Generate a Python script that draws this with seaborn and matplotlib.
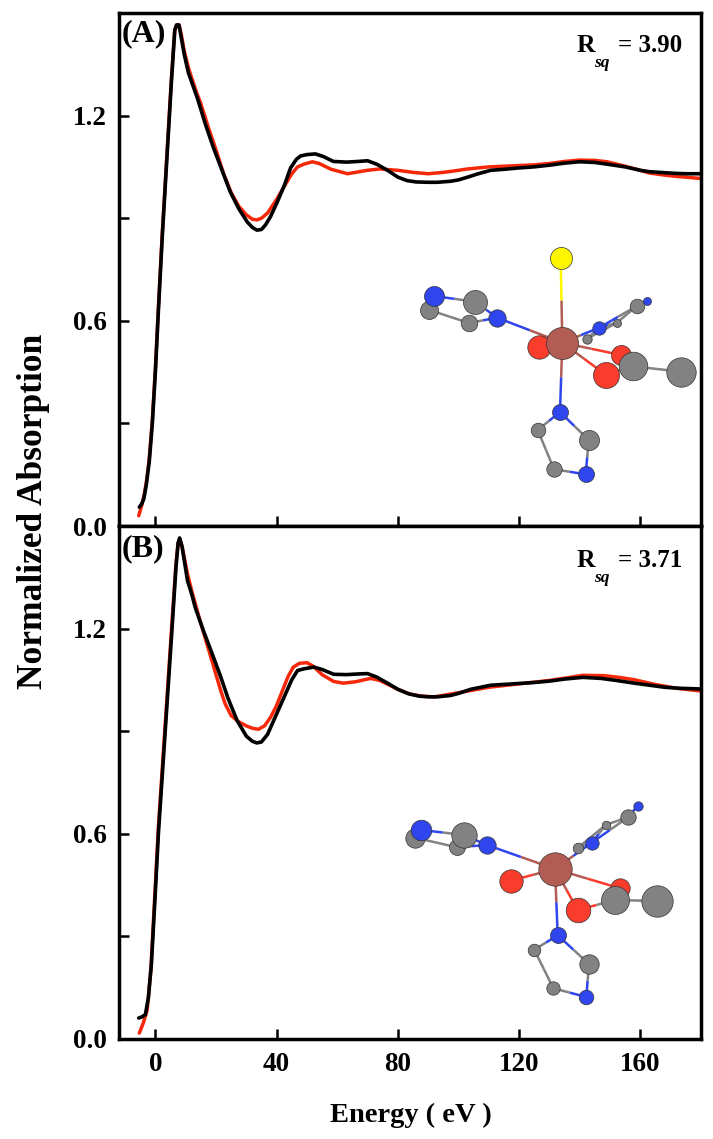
#!/usr/bin/env python3
import numpy as np
import matplotlib
matplotlib.use('Agg')
import matplotlib.pyplot as plt
import seaborn as sns

sns.set_theme(style='white')
plt.rcParams['font.family'] = ['Liberation Serif', 'DejaVu Serif']
plt.rcParams['font.weight'] = 'bold'
plt.rcParams['text.color'] = 'black'
plt.rcParams['xtick.color'] = 'black'
plt.rcParams['ytick.color'] = 'black'

# Spectra
a_black_x = [-5.3, -4.5, -3.8, -3, -2, -1, 0, 1, 2.3, 3.3, 4.3, 5.3, 6.4, 7, 7.8, 8.5, 9.5, 10.9, 12.3, 13.9,
             16.5, 19.2, 22, 24.7, 27.5, 30.3, 32, 33.5, 35, 36.3, 38, 40.2, 42.5, 44.6, 46.5, 47.9, 50, 52.8,
             55.5, 58.7, 63, 67, 70, 73, 76.6, 80, 83, 86, 89.8, 93, 97.4, 100, 103, 106.5, 110.6, 115, 120, 124.8,
             130, 135, 140, 145, 149, 155, 160, 163, 168, 172, 175, 180]
a_black_y = [0.055, 0.065, 0.08, 0.12, 0.19, 0.3, 0.45, 0.63, 0.85, 1.0, 1.15, 1.3, 1.45, 1.465, 1.465, 1.43, 1.38, 1.325, 1.29, 1.25,
             1.175, 1.105, 1.04, 0.977, 0.928, 0.889, 0.873, 0.865, 0.867, 0.88, 0.905, 0.947, 0.995, 1.047, 1.072, 1.082, 1.086, 1.088,
             1.08, 1.066, 1.064, 1.066, 1.068, 1.058, 1.04, 1.02, 1.01, 1.006, 1.005, 1.005, 1.008, 1.012, 1.02, 1.03, 1.04, 1.043, 1.047, 1.05,
             1.055, 1.061, 1.065, 1.063, 1.058, 1.05, 1.04, 1.036, 1.033, 1.031, 1.03, 1.03]
a_red_x = [-5.5, -4.5, -3.5, -2.7, -2, -1, 0, 1, 2.3, 3.3, 4.3, 5.3, 6.4, 7, 7.8, 8.5, 9.5, 10.9, 12, 13.5, 15,
           17.5, 20, 22.5, 25, 27.5, 30, 32, 33.5, 35, 37, 40, 43, 45, 46.9, 49, 51.8, 54, 58, 63.4, 66, 70, 74, 80, 85, 90,
           95, 100, 103, 110, 115, 120, 125, 130, 135, 140, 145, 149, 155, 160, 163, 168, 172, 175, 180]
a_red_y = [0.03, 0.06, 0.1, 0.145, 0.2, 0.31, 0.46, 0.64, 0.86, 1.01, 1.16, 1.31, 1.45, 1.465, 1.465, 1.44, 1.39, 1.34, 1.31, 1.27, 1.235,
           1.165, 1.1, 1.03, 0.975, 0.935, 0.91, 0.897, 0.895, 0.9, 0.915, 0.955, 1.0, 1.03, 1.05, 1.058, 1.065, 1.06, 1.043, 1.03, 1.034, 1.04, 1.044, 1.04, 1.034, 1.03,
           1.034, 1.04, 1.044, 1.05, 1.052, 1.054, 1.056, 1.06, 1.066, 1.07, 1.069, 1.065, 1.052, 1.04, 1.032, 1.026, 1.022, 1.02, 1.016]

b_black_x = [-5.5, -4.5, -3.3, -2.3, -1.3, 0, 1, 2.5, 4, 5.5, 6.8, 7.5, 8, 8.8, 9.7, 10.6, 12, 13.2, 16, 19.2, 21.5, 24,
             27, 30, 32, 33.5, 35, 37, 40, 42.5, 45, 46.9, 49, 52.3, 55, 58.8, 63, 67, 70, 73, 76.6, 80, 83.5, 87, 90, 93,
             97.4, 100, 104, 110.6, 118, 125, 130, 135, 141, 147, 152, 158, 163, 168, 173, 180]
b_black_y = [0.06, 0.063, 0.07, 0.12, 0.22, 0.43, 0.6, 0.8, 1.0, 1.2, 1.38, 1.45, 1.465, 1.44, 1.39, 1.34, 1.3, 1.26, 1.19, 1.115, 1.06, 0.995,
             0.93, 0.885, 0.87, 0.865, 0.868, 0.89, 0.95, 1.0, 1.05, 1.077, 1.082, 1.087, 1.08, 1.066, 1.065, 1.067, 1.068, 1.058, 1.04, 1.022, 1.009, 1.002, 1.0, 1.0,
             1.004, 1.01, 1.022, 1.034, 1.038, 1.042, 1.046, 1.052, 1.057, 1.054, 1.048, 1.04, 1.034, 1.028, 1.025, 1.023]
b_red_x = [-5.3, -4, -2.7, -1.5, 0, 1, 2.5, 4, 5.5, 6.8, 7.5, 8, 8.8, 9.7, 10.6, 12, 14.5, 17, 19.5, 21.5, 23, 25,
           27.5, 30, 32, 34, 36, 38, 40, 42, 43.8, 45.5, 47.5, 50, 52, 55, 58.8, 62, 66, 71, 74, 80, 84, 88, 92, 100,
           110, 120, 130, 136, 141, 148, 153, 158, 165, 172, 180]
b_red_y = [0.016, 0.045, 0.083, 0.2, 0.45, 0.62, 0.82, 1.02, 1.22, 1.39, 1.45, 1.46, 1.44, 1.4, 1.36, 1.31, 1.23, 1.155, 1.08, 1.02, 0.98, 0.945,
           0.927, 0.915, 0.908, 0.905, 0.915, 0.94, 0.975, 1.02, 1.06, 1.087, 1.098, 1.10, 1.09, 1.065, 1.045, 1.04, 1.044, 1.054, 1.048, 1.022, 1.008, 1.002, 1.0, 1.012,
           1.028, 1.038, 1.048, 1.056, 1.063, 1.062, 1.057, 1.05, 1.036, 1.025, 1.017]

x_ticks = [0, 40, 80, 120, 160]
y_ticks = [0.0, 0.3, 0.6, 0.9, 1.2]
y_tick_labels = ['0.0', '', '0.6', '', '1.2']

# Molecule insets, read in image pixels: x, y, radius, colour key
BROWN, RED, GREY, BLUE, YELLOW = '#b25c54', '#f93c2c', '#828282', '#2f46ee', '#fdf600'

a_atoms_x = [586.7, 617, 636.7, 646.7, 599.3, 429.3, 433.7, 469, 475.3, 497, 538.7, 562.3, 621, 605.7, 633, 681.3, 560.7, 560, 537.7, 588.7, 554, 585.7]
a_atoms_y = [339, 322.7, 306, 301.3, 327.7, 310, 296, 323, 301.7, 317.7, 347.3, 342.7, 355, 374.7, 366.3, 371.7, 258.3, 412, 430, 440, 469.3, 474.3]
a_atoms_r = [4.7, 4, 7.3, 4, 6.7, 9, 10, 8.3, 12, 8.7, 11.7, 16, 10, 13, 14.3, 14.7, 11, 8, 7.3, 10, 7.7, 8]
a_atoms_c = [GREY, GREY, GREY, BLUE, BLUE, GREY, BLUE, GREY, GREY, BLUE, RED, BROWN, RED, RED, GREY, GREY, YELLOW, BLUE, GREY, GREY, GREY, BLUE]
a_bonds = [(11, 16), (11, 10), (11, 12), (11, 13), (11, 9), (11, 4), (11, 17), (14, 15), (12, 14), (13, 14),
           (9, 8), (9, 7), (8, 6), (6, 5), (5, 7), (4, 0), (4, 1), (4, 2), (0, 1), (1, 2), (2, 3),
           (17, 18), (17, 19), (18, 20), (20, 21), (21, 19)]

b_atoms_x = [510.7, 577.7, 606, 628, 637.7, 591.7, 415, 421.3, 457, 464, 487, 555, 620, 577.7, 615.3, 656.7, 557.7, 534.3, 589, 553.3, 586.3]
b_atoms_y = [880.7, 848, 824.7, 817.3, 805.7, 842.7, 837.7, 830, 847.3, 835, 845, 869, 888.3, 910, 900, 901, 935.3, 949.7, 964, 988.3, 997]
b_atoms_r = [11.7, 5.3, 4.3, 7.7, 4.7, 6.7, 9.7, 10.3, 8, 12.7, 8.7, 16.7, 9.7, 12.3, 14, 15.7, 8, 6.3, 9.7, 6.7, 7.3]
b_atoms_c = [RED, GREY, GREY, GREY, BLUE, BLUE, GREY, BLUE, GREY, GREY, BLUE, BROWN, RED, RED, GREY, GREY, BLUE, GREY, GREY, GREY, BLUE]
b_bonds = [(11, 0), (11, 12), (11, 13), (11, 10), (11, 5), (11, 16), (14, 15), (12, 14), (13, 14),
           (10, 9), (10, 8), (9, 7), (7, 6), (6, 8), (5, 1), (5, 2), (5, 3), (1, 2), (2, 3), (3, 4),
           (16, 17), (16, 18), (17, 19), (19, 20), (20, 18)]


def style_panel(ax, show_x):
    ax.set_xlim(-12, 180)
    ax.set_ylim(0, 1.5)
    ax.set_xticks(x_ticks)
    ax.set_yticks(y_ticks)
    ax.set_yticklabels(y_tick_labels)
    ax.tick_params(direction='in', length=7, width=1.8, labelsize=19.5, left=True, bottom=True)
    ax.tick_params(axis='x', pad=10, labelbottom=show_x)
    ax.tick_params(axis='y', pad=9)
    ax.set_xlabel('')
    ax.set_ylabel('')
    for s in ax.spines.values():
        s.set_linewidth(2.5)
        s.set_color('black')


def draw_panel(ax, red_x, red_y, black_x, black_y, show_x):
    sns.lineplot(x=red_x, y=red_y, color='#f5280a', lw=2.5, sort=False, estimator=None, ax=ax)
    sns.lineplot(x=black_x, y=black_y, color='black', lw=2.6, sort=False, estimator=None, ax=ax)
    style_panel(ax, show_x)


def draw_molecule(ov, xs, ys, rs, cs, bonds):
    for i, j in bonds:
        mx, my = (xs[i] + xs[j]) / 2, (ys[i] + ys[j]) / 2
        ov.plot([xs[i], mx], [ys[i], my], color=cs[i], lw=1.8, solid_capstyle='butt', zorder=1)
        ov.plot([mx, xs[j]], [my, ys[j]], color=cs[j], lw=1.8, solid_capstyle='butt', zorder=1)
    sizes = (2 * np.array(rs) * 0.72) ** 2
    # one at a time so the overlap order stays as listed
    for k in range(len(xs)):
        ov.scatter(xs[k], ys[k], s=sizes[k], color=cs[k], edgecolor='#333333', linewidth=0.5, zorder=2 + k)


def rsq_label(ov, y, value):
    ov.text(577, y, 'R', fontsize=18.5, fontweight='bold', ha='left', va='baseline')
    ov.text(594, y + 15, 'sq', fontsize=12.5, fontweight='bold', style='italic', ha='left', va='baseline')
    ov.text(682, y, '= ' + value, fontsize=18, fontweight='bold', ha='right', va='baseline')


fig = plt.figure(figsize=(7.13, 11.39), dpi=100)
W, H = 713, 1139
ax1 = fig.add_axes([119 / W, 1 - 526 / H, 582 / W, 513 / H])
ax2 = fig.add_axes([119 / W, 1 - 1038.5 / H, 582 / W, 512.5 / H])

draw_panel(ax1, a_red_x, a_red_y, a_black_x, a_black_y, False)
draw_panel(ax2, b_red_x, b_red_y, b_black_x, b_black_y, True)

# overlay in image pixels for the molecule pictures and loose labels
ov = fig.add_axes([0, 0, 1, 1])
ov.set_xlim(0, W)
ov.set_ylim(H, 0)
ov.axis('off')
draw_molecule(ov, a_atoms_x, a_atoms_y, a_atoms_r, a_atoms_c, a_bonds)
draw_molecule(ov, b_atoms_x, b_atoms_y, b_atoms_r, b_atoms_c, b_bonds)

ov.text(122, 34, '(A)', fontsize=23, fontweight='bold', va='center')
ov.text(122, 549, '(B)', fontsize=23, fontweight='bold', va='center')
rsq_label(ov, 52, '3.90')
rsq_label(ov, 567, '3.71')

ov.text(42, 511.5, 'Normalized Absorption', rotation=90, fontsize=25.5, fontweight='bold', ha='center', va='baseline',
        rotation_mode='anchor')
ov.text(410.5, 1122, 'Energy ( eV )', fontsize=20.5, fontweight='bold', ha='center', va='baseline')

fig.savefig('out.png', dpi=100)
